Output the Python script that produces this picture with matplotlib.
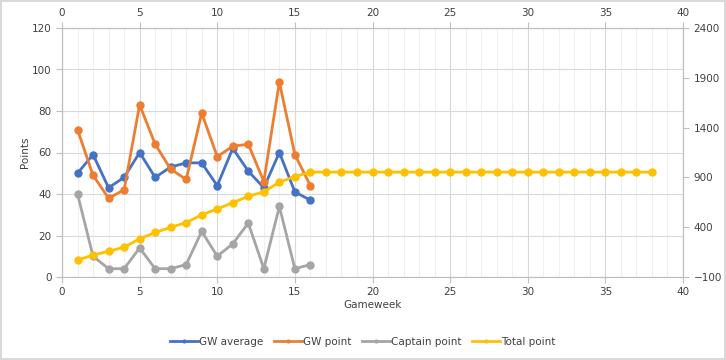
import matplotlib
matplotlib.use("Agg")
import matplotlib.pyplot as plt
from matplotlib.ticker import MultipleLocator

plt.rcParams['font.family'] = ['DejaVu Sans']

gameweeks = list(range(1, 17))
gw_average = [50, 59, 43, 48, 60, 48, 53, 55, 55, 44, 62, 51, 43, 60, 41, 37]
gw_point = [71, 49, 38, 42, 83, 64, 52, 47, 79, 58, 63, 64, 46, 94, 59, 44]
captain_point = [40, 10, 4, 4, 14, 4, 4, 6, 22, 10, 16, 26, 4, 34, 4, 6]
total_weeks = list(range(1, 39))
total_point = [71, 120, 158, 200, 283, 347, 399, 446, 525, 583, 646, 710, 756, 850, 909, 953,
               953, 953, 953, 953, 953, 953, 953, 953, 953, 953, 953, 953, 953, 953, 953,
               953, 953, 953, 953, 953, 953, 953]

blue = "#4472C4"
orange = "#ED7D31"
grey = "#A5A5A5"
yellow = "#FFC000"
axis_col = "#BFBFBF"
txt = "#404040"

fig = plt.figure(figsize=(7.26, 3.6), dpi=100)
fig.patch.set_edgecolor("#D9D9D9")
fig.patch.set_linewidth(1.5)
ax = fig.add_axes([62 / 726, 1 - 277 / 360, 621 / 726, 249 / 360])
ax2 = ax.twinx()

# gridlines
ax.set_xlim(0, 40)
ax.set_ylim(0, 120)
ax.xaxis.set_major_locator(MultipleLocator(5))
ax.xaxis.set_minor_locator(MultipleLocator(1))
ax.yaxis.set_major_locator(MultipleLocator(20))
ax.grid(which="minor", axis="x", color="#F0F0F0", lw=0.8)
ax.grid(which="major", axis="x", color="#D9D9D9", lw=0.8)
ax.grid(which="major", axis="y", color="#D9D9D9", lw=0.8)
ax.set_axisbelow(True)

kw = dict(lw=2, marker="o", ms=5)
l1, = ax.plot(gameweeks, gw_average, color=blue, label="GW average", zorder=3, **kw)
l2, = ax.plot(gameweeks, gw_point, color=orange, label="GW point", zorder=3, **kw)
l3, = ax.plot(gameweeks, captain_point, color=grey, label="Captain point", zorder=3, **kw)
l4, = ax2.plot(total_weeks, total_point, color=yellow, label="Total point", **kw)

ax2.set_ylim(-100, 2400)
ax2.set_yticks([-100, 400, 900, 1400, 1900, 2400])

for a in (ax, ax2):
    for s in a.spines.values():
        s.set_color(axis_col)
    a.tick_params(which="major", length=4, color=axis_col, labelcolor=txt, labelsize=7.5)
    a.tick_params(which="minor", length=0)

# x labels on top as well as bottom
ax.tick_params(axis="x", which="major", top=True, labeltop=True)

ax.set_ylabel("Points", color=txt, fontsize=7.5, labelpad=1)
ax.set_xlabel("Gameweek", color=txt, fontsize=7.5, labelpad=2)

fig.legend(handles=[l1, l2, l3, l4], loc="center", bbox_to_anchor=(0.5, 1 - 342 / 360),
           ncol=4, frameon=False, fontsize=7.5, markerscale=0.4, handlelength=2.7,
           handletextpad=0.1, columnspacing=1.0, labelcolor=txt)

fig.savefig("out.png", dpi=100)
